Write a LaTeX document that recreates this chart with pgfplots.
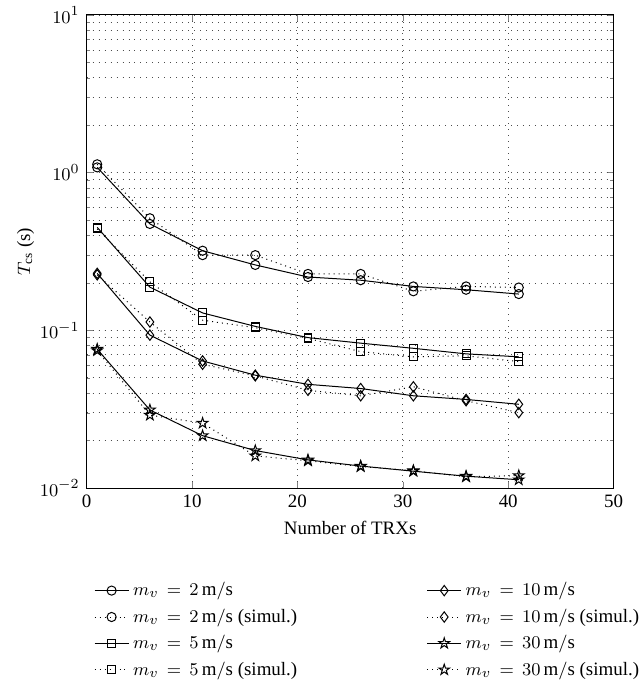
\documentclass[border=0pt]{standalone}
\usepackage{fontspec}
\setmainfont{Liberation Serif}
\usepackage{pgfplots}
\pgfplotsset{compat=1.18}

% outlined five-point star, like MATLAB's pentagram marker
\pgfdeclareplotmark{pent}{%
  \pgfpathmoveto{\pgfpointpolar{90}{\pgfplotmarksize}}%
  \pgfpathlineto{\pgfpointpolar{126}{0.382\pgfplotmarksize}}%
  \pgfpathlineto{\pgfpointpolar{162}{\pgfplotmarksize}}%
  \pgfpathlineto{\pgfpointpolar{198}{0.382\pgfplotmarksize}}%
  \pgfpathlineto{\pgfpointpolar{234}{\pgfplotmarksize}}%
  \pgfpathlineto{\pgfpointpolar{270}{0.382\pgfplotmarksize}}%
  \pgfpathlineto{\pgfpointpolar{306}{\pgfplotmarksize}}%
  \pgfpathlineto{\pgfpointpolar{342}{0.382\pgfplotmarksize}}%
  \pgfpathlineto{\pgfpointpolar{18}{\pgfplotmarksize}}%
  \pgfpathlineto{\pgfpointpolar{54}{0.382\pgfplotmarksize}}%
  \pgfpathclose
  \pgfusepathqstroke
}

\pgfplotsset{
  ana/.style={black, line width=0.5pt, solid},
  sim/.style={black, line width=0.5pt, dotted, mark options={solid}},
}

\begin{document}
\begin{tikzpicture}
\begin{axis}[
  name=ax,
  scale only axis, width=264.5pt, height=237.5pt,
  font=\fontsize{9.5}{11.5}\selectfont,
  ymode=log, xmin=0, xmax=50, ymin=1e-2, ymax=10,
  xtick={0,10,...,50}, ytick={1e-2,1e-1,1,10},
  xticklabel style={/pgf/number format/assume math mode=true},
  tick align=inside, major tick length=3pt, minor tick length=1.6pt,
  xmajorgrids, ymajorgrids, yminorgrids,
  major grid style={black!70, line width=0.4pt, dash pattern=on 0.4pt off 2.6pt},
  minor grid style={black!70, line width=0.4pt, dash pattern=on 0.4pt off 2.6pt},
  axis line style={line width=0.5pt},
  xlabel={Number of TRXs}, ylabel={$T_{\mathrm{cs}}$ (s)},
  ylabel style={yshift=-4pt},
  legend columns=2,
  legend cell align=left,
  legend style={draw=none, fill=none, inner sep=0pt, at={(0.535,-0.19)}, anchor=north,
    font=\fontsize{9.5}{11.5}\selectfont, row sep=1pt,
    /tikz/every even column/.append style={column sep=63pt}},
]
% row-wise legend order: left column 2 and 5 m/s, right column 10 and 30 m/s
\addplot[ana, mark=o, mark size=2.3pt] coordinates {(1,1.08) (6,0.473) (11,0.32) (16,0.26) (21,0.218) (26,0.208) (31,0.19) (36,0.181) (41,0.17)};
\addlegendentry{$m_v\,=\,2\,\mathrm{m/s}$}
\addplot[ana, mark=diamond, mark size=2.6pt] coordinates {(1,0.23) (6,0.0933) (11,0.064) (16,0.052) (21,0.0455) (26,0.0428) (31,0.0385) (36,0.0365) (41,0.034)};
\addlegendentry{$m_v\,=\,10\,\mathrm{m/s}$}
\addplot[sim, mark=o, mark size=2.3pt] coordinates {(1,1.13) (6,0.514) (11,0.30) (16,0.30) (21,0.228) (26,0.228) (31,0.177) (36,0.19) (41,0.187)};
\addlegendentry{$m_v\,=\,2\,\mathrm{m/s}$ (simul.)}
\addplot[sim, mark=diamond, mark size=2.6pt] coordinates {(1,0.225) (6,0.113) (11,0.061) (16,0.0515) (21,0.0417) (26,0.0385) (31,0.0439) (36,0.0358) (41,0.0301)};
\addlegendentry{$m_v\,=\,10\,\mathrm{m/s}$ (simul.)}
\addplot[ana, mark=square, mark size=2pt] coordinates {(1,0.45) (6,0.188) (11,0.129) (16,0.106) (21,0.09) (26,0.083) (31,0.077) (36,0.071) (41,0.068)};
\addlegendentry{$m_v\,=\,5\,\mathrm{m/s}$}
\addplot[ana, mark=pent, mark size=2.8pt] coordinates {(1,0.076) (6,0.0313) (11,0.0215) (16,0.0173) (21,0.0151) (26,0.0138) (31,0.0128) (36,0.0119) (41,0.0113)};
\addlegendentry{$m_v\,=\,30\,\mathrm{m/s}$}
\addplot[sim, mark=square, mark size=2pt] coordinates {(1,0.44) (6,0.203) (11,0.116) (16,0.104) (21,0.089) (26,0.0733) (31,0.068) (36,0.069) (41,0.0634)};
\addlegendentry{$m_v\,=\,5\,\mathrm{m/s}$ (simul.)}
\addplot[sim, mark=pent, mark size=2.8pt] coordinates {(1,0.0745) (6,0.029) (11,0.0258) (16,0.016) (21,0.0149) (26,0.0137) (31,0.0129) (36,0.0118) (41,0.012)};
\addlegendentry{$m_v\,=\,30\,\mathrm{m/s}$ (simul.)}
\end{axis}
% blank margin left of the y label, as in the reference
\path (ax.south west) ++(-43.5pt,0pt);
\end{tikzpicture}
\end{document}
